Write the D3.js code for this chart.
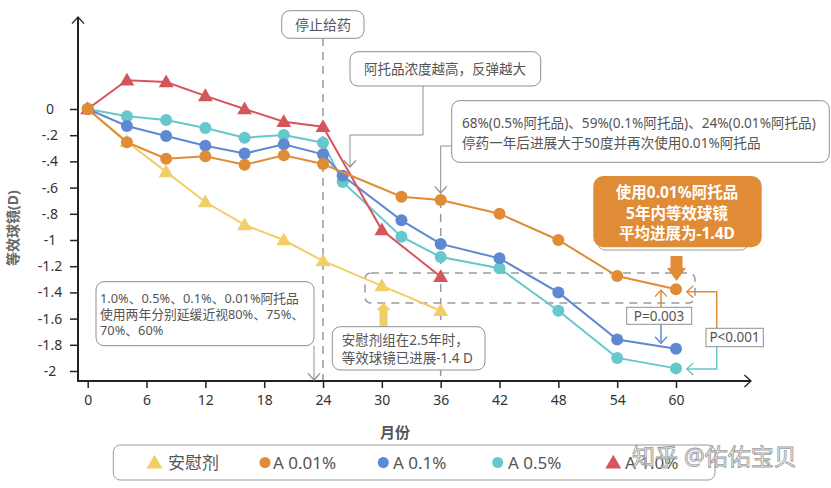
<!DOCTYPE html>
<html>
<head>
<meta charset="utf-8">
<script src="https://cdn.jsdelivr.net/npm/d3@7"></script>
<style>
  body { margin: 0; background: #fff; }
  svg { font-family: "Noto Sans", "Noto Sans CJK SC", sans-serif; }
</style>
</head>
<body>
<div id="chart"></div>
<script>
// months of each visit
const monthsShort = [0, 4, 8, 12, 16, 20, 24, 30, 36]
const monthsLong = [0, 4, 8, 12, 16, 20, 24, 26, 32, 36, 42, 48, 54, 60]
const monthsOrange = [0, 4, 8, 12, 16, 20, 24, 32, 36, 42, 48, 54, 60]

// series values (D)
const placebo = [0, -0.25, -0.48, -0.71, -0.885, -1.0, -1.16, -1.35, -1.54]
const a001 = [0, -0.254, -0.38, -0.36, -0.425, -0.354, -0.42, -0.67, -0.695, -0.80, -1.0, -1.275, -1.376]
const a01 = [0, -0.13, -0.206, -0.28, -0.34, -0.27, -0.346, -0.51, -0.85, -1.03, -1.14, -1.40, -1.76, -1.83]
const a05 = [0, -0.056, -0.084, -0.145, -0.219, -0.198, -0.257, -0.557, -0.975, -1.13, -1.216, -1.54, -1.90, -1.98]
const a10 = [0, 0.22, 0.206, 0.10, 0, -0.097, -0.135, -0.924, -1.28]

const xTicks = [0, 6, 12, 18, 24, 30, 36, 42, 48, 54, 60]
const yTicks = [0, -0.2, -0.4, -0.6, -0.8, -1, -1.2, -1.4, -1.6, -1.8, -2]
const yTickLabels = ["0", "-.2", "-.4", "-.6", "-.8", "-1", "-1.2", "-1.4", "-1.6", "-1.8", "-2"]

const legendNames = ["安慰剂", "A 0.01%", "A 0.1%", "A 0.5%", "A 1.0%"]

const col = {
    yellow: "#F2CE66", orange: "#E08C36", blue: "#5E88D2",
    cyan: "#66C7CC", red: "#D6555B", gray: "#8f8f8f", text: "#555"
}

const width = 831, height = 488
const svg = d3.select("#chart").append("svg")
    .attr("width", width).attr("height", height)

const x = d3.scaleLinear().domain([0, 60]).range([87.7, 676])
const y = d3.scaleLinear().domain([0, -2]).range([109, 371])
const axisX0 = 78, axisY0 = 381

// open chevron arrow head
const chevron = (g, px, py, dir, color, s = 7) => {
    const pts = {
        down: [[px - s, py - s * 1.1], [px, py], [px + s, py - s * 1.1]],
        up: [[px - s, py + s * 1.1], [px, py], [px + s, py + s * 1.1]],
        left: [[px + s * 1.1, py - s], [px, py], [px + s * 1.1, py + s]],
        right: [[px - s * 1.1, py - s], [px, py], [px - s * 1.1, py + s]]
    }[dir]
    g.append("path").attr("d", d3.line()(pts))
        .attr("fill", "none").attr("stroke", color).attr("stroke-width", 1.3)
}

const box = (x0, y0, w, h, rx = 8) => svg.append("rect")
    .attr("x", x0).attr("y", y0).attr("width", w).attr("height", h)
    .attr("rx", rx).attr("fill", "#fff").attr("stroke", col.gray).attr("stroke-width", 1)

// multi-line text as one element with tspans
const lines = (x0, ys, txts, size = 13.5, anchor = "start") => {
    const t = svg.append("text").attr("text-anchor", anchor)
        .attr("font-size", size).attr("fill", col.text)
    txts.forEach((s, i) => t.append("tspan")
        .attr("x", x0).attr("y", ys[i] + size * 0.36).text(s))
}

// dashed guides
svg.append("line").attr("x1", x(24)).attr("x2", x(24)).attr("y1", 38).attr("y2", axisY0)
    .attr("stroke", "#9a9a9a").attr("stroke-width", 1.5).attr("stroke-dasharray", "8,6")
svg.append("line").attr("x1", x(36)).attr("x2", x(36)).attr("y1", 200).attr("y2", axisY0)
    .attr("stroke", "#9a9a9a").attr("stroke-width", 1.5).attr("stroke-dasharray", "8,6")
svg.append("rect").attr("x", 365).attr("y", 273).attr("width", 330).attr("height", 30)
    .attr("rx", 6).attr("fill", "none").attr("stroke", "#9a9a9a").attr("stroke-width", 1.5)
    .attr("stroke-dasharray", "8,6")

// axes
const gy = svg.append("g").attr("transform", `translate(${axisX0},0)`)
    .call(d3.axisLeft(y).tickValues(yTicks).tickFormat((d, i) => yTickLabels[i]).tickSize(8).tickPadding(4))
gy.select(".domain").remove()
gy.selectAll(".tick line").attr("stroke", "#222").attr("stroke-width", 1.5)
gy.selectAll(".tick text").attr("x", -28).attr("text-anchor", "middle")
    .attr("font-size", 14).attr("fill", "#333").attr("font-family", "Noto Sans")

const gx = svg.append("g").attr("transform", `translate(0,${axisY0})`)
    .call(d3.axisBottom(x).tickValues(xTicks).tickSize(7).tickPadding(7))
gx.select(".domain").remove()
gx.selectAll(".tick line").attr("stroke", "#222").attr("stroke-width", 1.5)
gx.selectAll(".tick text").attr("font-size", 14).attr("fill", "#333").attr("font-family", "Noto Sans")

svg.append("path").attr("d", d3.line()([[axisX0, 17], [axisX0, axisY0], [751, axisY0]]))
    .attr("fill", "none").attr("stroke", "#222").attr("stroke-width", 2)
chevron(svg, axisX0, 17, "up", "#222", 6)
chevron(svg, 751, axisY0, "right", "#222", 6)

svg.append("text").attr("x", 395).attr("y", 432).attr("text-anchor", "middle")
    .attr("dominant-baseline", "central").attr("font-size", 15).attr("font-weight", "bold")
    .attr("fill", col.text).text("月份")
svg.append("text").attr("transform", "translate(12,228) rotate(-90)").attr("text-anchor", "middle")
    .attr("dominant-baseline", "central").attr("font-size", 14).attr("font-weight", "bold")
    .attr("fill", "#666").text("等效球镜(D)")

// series
const series = [
    { months: monthsShort, vals: placebo, color: col.yellow, shape: "tri" },
    { months: monthsLong, vals: a05, color: col.cyan, shape: "dot" },
    { months: monthsLong, vals: a01, color: col.blue, shape: "dot" },
    { months: monthsShort, vals: a10, color: col.red, shape: "tri" },
    { months: monthsOrange, vals: a001, color: col.orange, shape: "dot" }
]
const lineGen = d3.line().x(d => x(d[0])).y(d => y(d[1]))
const tri = d3.symbol().type(d3.symbolTriangle).size(95)

series.forEach(s => {
    const pts = s.months.map((m, i) => [m, s.vals[i]])
    const g = svg.append("g")
    g.append("path").attr("d", lineGen(pts)).attr("fill", "none")
        .attr("stroke", s.color).attr("stroke-width", 2)
    if (s.shape === "dot") {
        g.selectAll("circle").data(pts).join("circle")
            .attr("cx", d => x(d[0])).attr("cy", d => y(d[1])).attr("r", 6)
            .attr("fill", s.color)
    } else {
        g.selectAll("path.m").data(pts).join("path").attr("class", "m")
            .attr("d", tri).attr("transform", d => `translate(${x(d[0])},${y(d[1]) + 1})`)
            .attr("fill", s.color)
    }
})

// annotation: stop dosing
box(281.7, 10.7, 82.3, 27.6)
lines(323, [24.5], ["停止给药"], 14, "middle")

// annotation: rebound
box(350, 51.7, 190.7, 34.3)
lines(445, [69], ["阿托品浓度越高，反弹越大"], 13.5, "middle")
svg.append("path").attr("d", d3.line()([[423, 86], [423, 135], [350, 135], [350, 167]]))
    .attr("fill", "none").attr("stroke", col.gray)
chevron(svg, 350, 167, "down", col.gray, 6)

// annotation: rebound percentages
box(451.7, 100.7, 377.6, 61.6)
lines(462, [123.5, 143], ["68%(0.5%阿托品)、59%(0.1%阿托品)、24%(0.01%阿托品)", "停药一年后进展大于50度并再次使用0.01%阿托品"], 13.6)
svg.append("path").attr("d", d3.line()([[451.7, 146], [x(36), 146], [x(36), 193]]))
    .attr("fill", "none").attr("stroke", col.gray)
chevron(svg, x(36), 193, "down", col.gray, 6)

// annotation: two-year slowing
box(96, 281.7, 218, 64)
lines(100, [298.5, 314.5, 330.5], ["1.0%、0.5%、0.1%、0.01%阿托品", "使用两年分别延缓近视80%、75%、", "70%、60%"], 12.8)
svg.append("line").attr("x1", 314).attr("x2", 314).attr("y1", 345.7).attr("y2", 380)
    .attr("stroke", col.gray)
chevron(svg, 314, 380, "down", col.gray, 6)

// annotation: placebo at 2.5 years
box(332.3, 326.7, 152.7, 43.3)
lines(341.7, [340.5, 358.5], ["安慰剂组在2.5年时，", "等效球镜已进展-1.4 D"], 13.5)
svg.append("path").attr("d", d3.line()([[379.5, 326], [379.5, 310], [376.5, 310], [383.5, 302.7], [390.5, 310], [387.5, 310], [387.5, 326]]))
    .attr("fill", col.yellow)

// highlight box
svg.append("rect").attr("x", 598).attr("y", 232).attr("width", 150).attr("height", 18)
    .attr("rx", 7).attr("fill", "#fff").attr("stroke", "#9a9a9a")
svg.append("rect").attr("x", 593.3).attr("y", 176).attr("width", 168.4).attr("height", 71.3)
    .attr("rx", 10).attr("fill", col.orange)
const hl = svg.append("text").attr("text-anchor", "middle").attr("font-size", 15.5)
    .attr("font-weight", "bold").attr("fill", "#fff")
;["使用0.01%阿托品", "5年内等效球镜", "平均进展为-1.4D"].forEach((t, i) => hl.append("tspan")
    .attr("x", 677).attr("y", [192.5, 213, 233.5][i] + 5.5).text(t))
svg.append("path").attr("d", d3.line()([[670.5, 256], [670.5, 268], [667, 268], [676.5, 281], [686, 268], [682.5, 268], [682.5, 256]]))
    .attr("fill", col.orange)

// p-value brackets
svg.append("line").attr("x1", 661).attr("x2", 661).attr("y1", 307.3).attr("y2", 290)
    .attr("stroke", col.orange).attr("stroke-width", 1.5)
chevron(svg, 661, 290, "up", col.orange, 6)
svg.append("line").attr("x1", 661).attr("x2", 661).attr("y1", 324.3).attr("y2", 343.3)
    .attr("stroke", col.blue).attr("stroke-width", 1.5)
chevron(svg, 661, 343.3, "down", col.blue, 6)
box(626.7, 307.3, 65, 17, 0)
lines(659, [316], ["P=0.003"], 13.5, "middle")

svg.append("path").attr("d", d3.line()([[716.7, 328.3], [716.7, 291.7], [686.7, 291.7]]))
    .attr("fill", "none").attr("stroke", col.orange).attr("stroke-width", 1.5)
chevron(svg, 686.7, 291.7, "left", col.orange, 6)
svg.append("path").attr("d", d3.line()([[716.7, 346.7], [716.7, 369], [686.7, 369]]))
    .attr("fill", "none").attr("stroke", col.cyan).attr("stroke-width", 1.5)
chevron(svg, 686.7, 369, "left", col.cyan, 6)
box(706, 328.3, 57.3, 18.4, 0)
lines(734.6, [337.5], ["P<0.001"], 13.5, "middle")

// legend
svg.append("rect").attr("x", 113.3).attr("y", 445).attr("width", 601.7).attr("height", 35)
    .attr("rx", 7).attr("fill", "#fff").attr("stroke", "#9a9a9a")
const legendItems = [
    { mx: 154.5, tx: 168, color: col.yellow, shape: "tri" },
    { mx: 265, tx: 273, color: col.orange, shape: "dot" },
    { mx: 383.3, tx: 393, color: col.blue, shape: "dot" },
    { mx: 497.7, tx: 508, color: col.cyan, shape: "dot" },
    { mx: 613.3, tx: 625, color: col.red, shape: "tri" }
]
legendItems.forEach((d, i) => {
    if (d.shape === "dot") {
        svg.append("circle").attr("cx", d.mx).attr("cy", 462.5).attr("r", 5.5).attr("fill", d.color)
    } else {
        svg.append("path").attr("d", d3.symbol().type(d3.symbolTriangle).size(110))
            .attr("transform", `translate(${d.mx},464)`).attr("fill", d.color)
    }
    svg.append("text").attr("x", d.tx).attr("y", 462.5).attr("dominant-baseline", "central")
        .attr("font-size", 17).attr("fill", col.text).text(legendNames[i])
})

// watermark (overlaps the legend in the original too)
svg.append("text").attr("x", 632).attr("y", 456).attr("dominant-baseline", "central")
    .attr("font-size", 23).attr("fill", "rgba(255,255,255,0.55)").attr("stroke", "#9d9d9d")
    .attr("stroke-width", 0.9).text("知乎 @佑佑宝贝")
</script>
</body>
</html>
